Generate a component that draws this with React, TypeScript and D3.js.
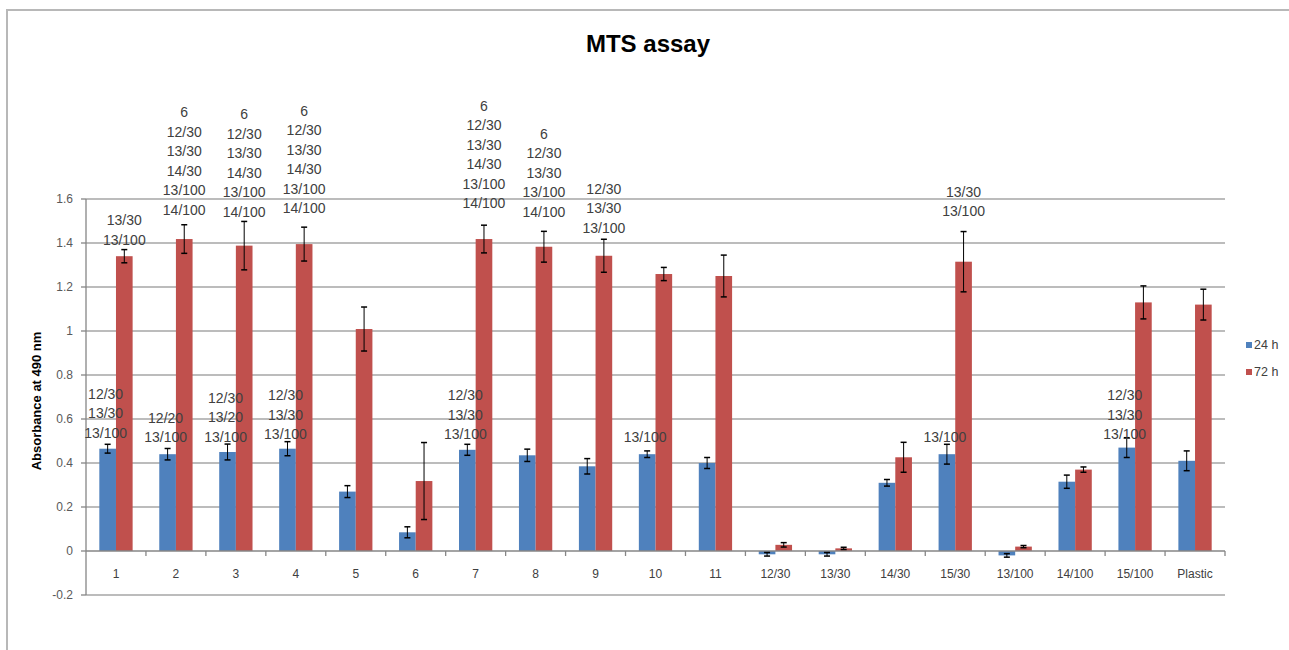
import React from "react";
import * as d3 from "d3";

const categories = ["1","2","3","4","5","6","7","8","9","10","11","12/30","13/30","14/30","15/30","13/100","14/100","15/100","Plastic"];
const seriesNames = ["24 h", "72 h"];
const values24 = [0.465,0.44,0.45,0.465,0.27,0.085,0.46,0.435,0.385,0.44,0.40,-0.015,-0.015,0.31,0.44,-0.02,0.315,0.47,0.41];
const values72 = [1.34,1.418,1.388,1.395,1.009,0.318,1.418,1.383,1.342,1.259,1.25,0.028,0.012,0.426,1.315,0.02,0.37,1.13,1.12];
const errors24 = [0.02,0.026,0.036,0.032,0.027,0.025,0.025,0.028,0.035,0.015,0.025,0.008,0.008,0.015,0.045,0.008,0.03,0.045,0.045];
const errors72 = [0.03,0.065,0.11,0.077,0.10,0.175,0.063,0.07,0.075,0.03,0.095,0.01,0.005,0.068,0.137,0.005,0.012,0.075,0.07];
const yTicks = [-0.2,0,0.2,0.4,0.6,0.8,1,1.2,1.4,1.6];
const yTickLabels = ["-0.2","0","0.2","0.4","0.6","0.8","1","1.2","1.4","1.6"];

const SIX = ["6","12/30","13/30","14/30","13/100","14/100"];
// annotation: category, series, text lines, value of bottom line
const annotations24 = [
  { cat: "1", lines: ["12/30","13/30","13/100"], at: 0.538 },
  { cat: "2", lines: ["12/20","13/100"], at: 0.517 },
  { cat: "3", lines: ["12/30","13/20","13/100"], at: 0.52 },
  { cat: "4", lines: ["12/30","13/30","13/100"], at: 0.53 },
  { cat: "7", lines: ["12/30","13/30","13/100"], at: 0.53 },
  { cat: "10", lines: ["13/100"], at: 0.518 },
  { cat: "15/30", lines: ["13/100"], at: 0.518 },
  { cat: "15/100", lines: ["12/30","13/30","13/100"], at: 0.53 },
];
const annotations72 = [
  { cat: "1", lines: ["13/30","13/100"], at: 1.414 },
  { cat: "2", lines: SIX, at: 1.551 },
  { cat: "3", lines: SIX, at: 1.542 },
  { cat: "4", lines: SIX, at: 1.558 },
  { cat: "7", lines: SIX, at: 1.58 },
  { cat: "8", lines: ["6","12/30","13/30","13/100","14/100"], at: 1.542 },
  { cat: "9", lines: ["12/30","13/30","13/100"], at: 1.47 },
  { cat: "15/30", lines: ["13/30","13/100"], at: 1.545 },
];

const colors = ["#4F81BD", "#C0504D"];
const FONT = "'Liberation Sans', Arial, sans-serif";

export default function App() {
  const W = 1289, H = 650;
  const plotL = 86, plotR = 1225, plotT = 199, plotB = 595;
  const x0 = d3.scaleBand<string>().domain(categories).range([plotL, plotR]).padding(0);
  const x1 = d3.scaleBand<string>().domain(seriesNames).range([0, x0.bandwidth()]).paddingInner(0).paddingOuter(0.8);
  const y = d3.scaleLinear().domain([-0.2, 1.6]).range([plotB, plotT]);
  const seriesVals = [values24, values72];
  const seriesErr = [errors24, errors72];
  const annots = [annotations24, annotations72];
  const lineH = 19.5;
  const bw = x1.bandwidth();

  return (
    <svg width={W} height={H} style={{ position: "absolute", left: 0, top: 0, background: "#fff" }} fontFamily={FONT}>
      <rect x={0} y={0} width={W} height={H} fill="#fff" />
      {/* outer border */}
      <path d={`M7,${H} L7,10 L${W},10`} fill="none" stroke="#b8b8b8" strokeWidth={2} />
      <text x={648} y={52} textAnchor="middle" fontSize={24} fontWeight="bold" fill="#000">MTS assay</text>

      {/* gridlines */}
      {yTicks.map((t, i) => (
        <g key={"g" + i}>
          {t !== 0 && <line x1={plotL} x2={plotR} y1={y(t)} y2={y(t)} stroke="#a6a6a6" strokeWidth={1.3} />}
          <line x1={plotL - 5} x2={plotL} y1={y(t)} y2={y(t)} stroke="#868686" strokeWidth={1.3} />
          <text x={73} y={y(t)} dy="0.35em" textAnchor="end" fontSize={12} fill="#595959">{yTickLabels[i]}</text>
        </g>
      ))}
      <line x1={plotL} x2={plotL} y1={plotT} y2={plotB} stroke="#868686" strokeWidth={1.3} />
      <text transform={`translate(36,${(plotT + plotB) / 2 + 4}) rotate(-90)`} textAnchor="middle" fontSize={13} fontWeight="bold" fill="#000" dy="0.35em">Absorbance at 490 nm</text>

      {/* bars */}
      {seriesNames.map((s, si) => (
        <g key={s}>
          {categories.map((c, ci) => {
            const v = seriesVals[si][ci];
            const bx = (x0(c) as number) + (x1(s) as number);
            return <rect key={c} x={bx} y={Math.min(y(v), y(0))} width={bw} height={Math.abs(y(v) - y(0))} fill={colors[si]} />;
          })}
        </g>
      ))}

      {/* x axis at 0 */}
      <line x1={plotL} x2={plotR} y1={y(0)} y2={y(0)} stroke="#868686" strokeWidth={1.3} />
      {categories.map((c, ci) => (
        <g key={"xt" + c}>
          <line x1={(x0(c) as number) + x0.bandwidth()} x2={(x0(c) as number) + x0.bandwidth()} y1={y(0)} y2={y(0) + 5} stroke="#868686" strokeWidth={1.3} />
          <text x={(x0(c) as number) + x0.bandwidth() / 2} y={574} dy="0.35em" textAnchor="middle" fontSize={12} fill="#404040">{c}</text>
        </g>
      ))}

      {/* error bars */}
      {seriesNames.map((s, si) => (
        <g key={"e" + s}>
          {categories.map((c, ci) => {
            const v = seriesVals[si][ci];
            const e = seriesErr[si][ci];
            const cx = (x0(c) as number) + (x1(s) as number) + bw / 2;
            return (
              <g key={c} stroke="#000" strokeWidth={1}>
                <line x1={cx} x2={cx} y1={y(v + e)} y2={y(v - e)} />
                <line x1={cx - 3} x2={cx + 3} y1={y(v + e)} y2={y(v + e)} strokeWidth={1.5} />
                <line x1={cx - 3} x2={cx + 3} y1={y(v - e)} y2={y(v - e)} strokeWidth={1.5} />
              </g>
            );
          })}
        </g>
      ))}

      {/* annotations */}
      {seriesNames.map((s, si) => (
        <g key={"a" + s}>
          {annots[si].map((a, ai) => {
            const cx = (x0(a.cat) as number) + (x1(s) as number) + bw / 2 - (si === 0 ? 2 : 0);
            const n = a.lines.length;
            return a.lines.map((l, li) => (
              <text key={ai + "-" + li} x={cx} y={y(a.at) - (n - 1 - li) * lineH} dy="0.35em" textAnchor="middle" fontSize={14} fill="#404040">{l}</text>
            ));
          })}
        </g>
      ))}

      {/* legend */}
      {seriesNames.map((s, si) => (
        <g key={"l" + s} transform={`translate(1246,${345 + si * 27})`}>
          <rect x={0} y={-3} width={6} height={6} fill={colors[si]} />
          <text x={8} y={0} dy="0.35em" fontSize={12.5} fill="#404040">{s}</text>
        </g>
      ))}
    </svg>
  );
}
